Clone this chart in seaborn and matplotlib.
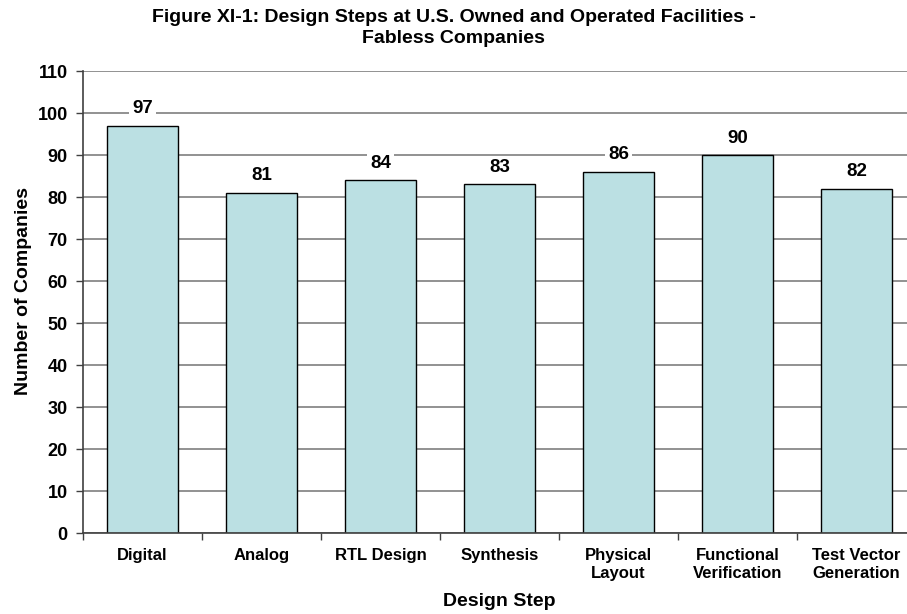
import matplotlib
matplotlib.use("Agg")
import matplotlib.pyplot as plt
import seaborn as sns
import pandas as pd

steps = ["Digital", "Analog", "RTL Design", "Synthesis", "Physical\nLayout",
         "Functional\nVerification", "Test Vector\nGeneration"]
companies = [97, 81, 84, 83, 86, 90, 82]
y_ticks = list(range(0, 111, 10))

sns.set_theme(style="white")
plt.rcParams["font.family"] = ["Liberation Sans", "DejaVu Sans"]
plt.rcParams["font.weight"] = "bold"
plt.rcParams["text.color"] = "black"
plt.rcParams["axes.labelcolor"] = "black"
plt.rcParams["xtick.color"] = "black"
plt.rcParams["ytick.color"] = "black"

df = pd.DataFrame({"step": steps, "companies": companies})

W, H = 907, 614
fig = plt.figure(figsize=(W / 100, H / 100), dpi=100)
ax = fig.add_axes([83 / W, 1 - 533 / H, 833 / W, 462 / H])

sns.barplot(data=df, x="step", y="companies", color="#BBE0E3", saturation=1,
            width=0.59, edgecolor="black", linewidth=1, ax=ax, zorder=2)

ax.set_ylim(0, 110)
ax.set_xlim(-0.5, len(steps) - 0.5)
ax.set_yticks(y_ticks)
ax.set_yticklabels([str(v) for v in y_ticks], fontsize=13, fontweight="bold")
ax.yaxis.grid(True, color="#7f7f7f", linewidth=1.2, zorder=0)
ax.set_axisbelow(True)

# category labels centred under each bar, tick marks on the boundaries
ax.set_xticks(range(len(steps)))
ax.set_xticklabels(steps, fontsize=12, fontweight="bold", linespacing=1.25)
ax.tick_params(axis="x", which="major", bottom=False, length=0, pad=11)
ax.set_xticks([i + 0.5 for i in range(-1, len(steps))], minor=True)
ax.tick_params(axis="x", which="minor", bottom=True, length=5, width=1,
               color="#404040", direction="out")
ax.tick_params(axis="y", left=True, length=5, width=1, color="#404040",
               direction="out", pad=6)

for side in ["top", "right"]:
    ax.spines[side].set_visible(False)
for side in ["left", "bottom"]:
    ax.spines[side].set_color("#404040")
    ax.spines[side].set_linewidth(1.2)

for i, v in enumerate(companies):
    ax.annotate(str(v), (i, v), xytext=(0, 6), textcoords="offset points",
                ha="center", va="bottom", fontsize=13.5, fontweight="bold",
                color="black",
                bbox=dict(boxstyle="square,pad=0.15", fc="white", ec="none"),
                zorder=5)

ax.set_xlabel("")
ax.set_ylabel("")

fig.text(24 / W, 1 - 291 / H, "Number of Companies", rotation=90,
         ha="center", va="center", fontsize=14, fontweight="bold")
fig.text(499 / W, 1 - 602 / H, "Design Step", ha="center", va="center",
         fontsize=14, fontweight="bold")

fig.text(0.5, 1 - 28 / H,
         "Figure XI-1: Design Steps at U.S. Owned and Operated Facilities -\nFabless Companies",
         ha="center", va="center", fontsize=14, fontweight="bold", linespacing=1.25)

fig.savefig("out.png", dpi=100)
